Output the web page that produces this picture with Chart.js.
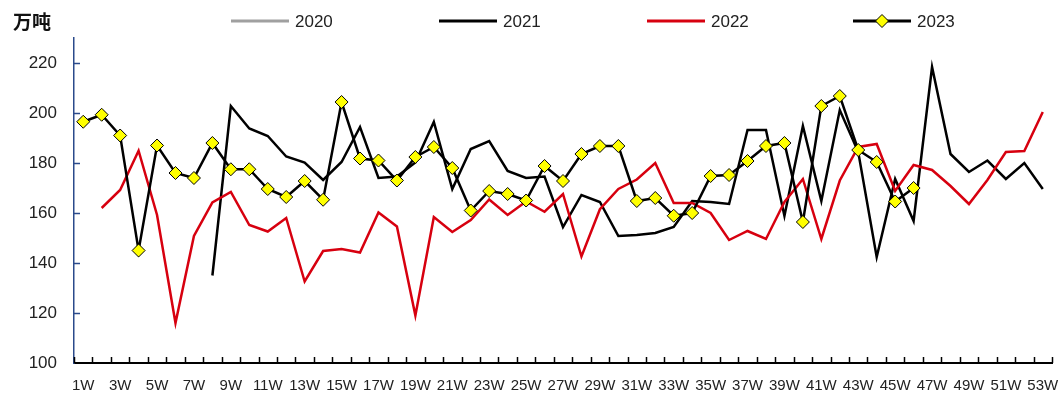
<!DOCTYPE html>
<html>
<head>
<meta charset="utf-8">
<script src="https://cdn.jsdelivr.net/npm/chart.js@4/dist/chart.umd.min.js"></script>
<style>
html,body{margin:0;padding:0;background:#fff;}
#wrap{width:1061px;height:395px;}
</style>
</head>
<body>
<div id="wrap"><canvas id="c" width="1061" height="395"></canvas></div>
<script>
const weeks = [];
for (let i = 1; i <= 53; i++) weeks.push(i + 'W');

const unitLabel = '万吨';
const seriesNames = ['2020', '2021', '2022', '2023'];

const y2020 = new Array(53).fill(null);

const y2021 = [null, null, null, null, null, null, null,
  135, 202.8, 193.8, 190.8, 182.6, 180.2, 173.2, 180.4, 194.4, 174, 174.6, 180.2, 196.4,
  169.6, 185.6, 188.8, 176.8, 174, 174.6, 154.4, 167.2, 164.4, 150.8, 151.2, 152, 154.4,
  164.8, 164.4, 163.6, 193.2, 193.2, 158.8, 194.8, 164.8, 201.2, 184.4, 142.4, 173.6,
  156.8, 218.4, 183.6, 176.4, 181, 173.6, 180, 169.6];

const y2022 = [null,
  162, 169.2, 184.9, 159.2, 116, 150.8, 164.2, 168.4, 155.2, 152.6, 158, 132.6, 144.8,
  145.6, 144.2, 160.2, 154.6, 119, 158.4, 152.4, 157.2, 165.4, 159.2, 164.6, 160.5, 167.6,
  142.6, 161.5, 169.6, 173.4, 180, 164, 164, 160, 149.2, 152.8, 149.6, 164.4, 173.6, 149.6,
  173, 186.4, 187.6, 168.8, 179.2, 177.2, 170.8, 163.6, 173.2, 184.4, 184.8, 200.4];

const y2023 = [196.5, 199.3, 191, 145, 187, 176, 174, 188, 177.5, 177.5, 169.6, 166.4,
  172.8, 165.3, 204.4, 181.8, 181, 173, 182.4, 186.4, 178, 161, 168.8, 167.6, 165, 178.8,
  172.8, 183.6, 186.8, 186.8, 164.8, 166, 158.9, 160, 174.8, 175.2, 180.8, 186.8, 188,
  156.4, 202.8, 206.8, 185.2, 180.4, 164.6, 170,
  null, null, null, null, null, null, null];

const yMin = 100, yMax = 230, yStep = 20;

const colors = {
  c2020: '#a0a0a0',
  c2021: '#000000',
  c2022: '#d7000f',
  c2023: '#000000',
  marker: '#ffff00',
  yAxis: '#2b4a8b'
};

const FONT = '"Liberation Sans", Arial, sans-serif';

const decor = {
  id: 'decor',
  afterDraw(chart) {
    const ctx = chart.ctx;
    const xs = chart.scales.x, ys = chart.scales.y;
    ctx.save();
    // unit title
    ctx.fillStyle = '#111';
    ctx.font = 'bold 19px "Noto Sans CJK SC", sans-serif';
    ctx.textBaseline = 'middle';
    ctx.textAlign = 'left';
    ctx.fillText(unitLabel, 13, 22);

    // inward y ticks
    ctx.strokeStyle = colors.yAxis;
    ctx.lineWidth = 1.5;
    for (let v = yMin + yStep; v <= yMax; v += yStep) {
      const py = Math.round(ys.getPixelForValue(v)) + 0.5;
      ctx.beginPath();
      ctx.moveTo(xs.left, py);
      ctx.lineTo(xs.left + 6, py);
      ctx.stroke();
    }
    // inward x ticks at category boundaries
    ctx.strokeStyle = '#000';
    ctx.lineWidth = 1.5;
    for (let i = 0; i <= weeks.length; i++) {
      const px = Math.round(xs.getPixelForValue(i - 0.5)) + 0.5;
      ctx.beginPath();
      ctx.moveTo(px, ys.bottom);
      ctx.lineTo(px, ys.bottom - 6);
      ctx.stroke();
    }

    // legend
    const legendX = [231, 439, 647, 853];
    const legendColors = [colors.c2020, colors.c2021, colors.c2022, colors.c2023];
    const ly = 21;
    ctx.font = '17px ' + FONT;
    ctx.textBaseline = 'middle';
    for (let i = 0; i < seriesNames.length; i++) {
      const x0 = legendX[i];
      ctx.strokeStyle = legendColors[i];
      ctx.lineWidth = 3;
      ctx.beginPath();
      ctx.moveTo(x0, ly);
      ctx.lineTo(x0 + 58, ly);
      ctx.stroke();
      if (i === 3) {
        const cx = x0 + 29, r = 6.5;
        ctx.beginPath();
        ctx.moveTo(cx - r, ly); ctx.lineTo(cx, ly - r);
        ctx.lineTo(cx + r, ly); ctx.lineTo(cx, ly + r);
        ctx.closePath();
        ctx.fillStyle = colors.marker;
        ctx.fill();
        ctx.lineWidth = 1;
        ctx.strokeStyle = '#000';
        ctx.stroke();
      }
      ctx.fillStyle = '#222';
      ctx.fillText(seriesNames[i], x0 + 64, ly + 1);
    }
    ctx.restore();
  }
};

new Chart(document.getElementById('c'), {
  type: 'line',
  data: {
    labels: weeks,
    datasets: [
      { label: seriesNames[0], data: y2020, borderColor: colors.c2020, borderWidth: 2.5, pointRadius: 0, order: 3 },
      { label: seriesNames[1], data: y2021, borderColor: colors.c2021, borderWidth: 2.5, pointRadius: 0, order: 2 },
      { label: seriesNames[2], data: y2022, borderColor: colors.c2022, borderWidth: 2.5, pointRadius: 0, order: 1 },
      { label: seriesNames[3], data: y2023, borderColor: colors.c2023, borderWidth: 2.5,
        pointStyle: 'rectRot', pointRadius: 6.5, pointBackgroundColor: colors.marker,
        pointBorderColor: '#000', pointBorderWidth: 1, order: 0 }
    ]
  },
  options: {
    responsive: false,
    animation: false,
    devicePixelRatio: 1,
    layout: { padding: { top: 38, right: 9, left: 0, bottom: 0 } },
    elements: { line: { tension: 0 } },
    plugins: { legend: { display: false }, tooltip: { enabled: false } },
    scales: {
      x: {
        type: 'category',
        offset: true,
        grid: { display: false, offset: true, drawTicks: false },
        border: { display: true, color: '#000', width: 2 },
        ticks: {
          autoSkip: false, maxRotation: 0, minRotation: 0, padding: 14,
          color: '#222', font: { size: 15, family: FONT },
          callback: (v, i) => (i % 2 === 0 ? weeks[i] : '')
        },
        afterFit: s => { s.height = 32; s.paddingLeft = 0; s.paddingRight = 0; }
      },
      y: {
        min: yMin, max: yMax,
        grid: { display: false, drawTicks: false },
        border: { display: true, color: colors.yAxis, width: 1.5 },
        ticks: {
          stepSize: yStep, padding: 17, color: '#222',
          font: { size: 17, family: FONT }
        },
        afterBuildTicks: s => { s.ticks = s.ticks.filter(t => (t.value - yMin) % yStep === 0); },
        afterFit: s => { s.width = 74; s.paddingTop = 0; s.paddingBottom = 0; }
      }
    }
  },
  plugins: [decor]
});
</script>
</body>
</html>
